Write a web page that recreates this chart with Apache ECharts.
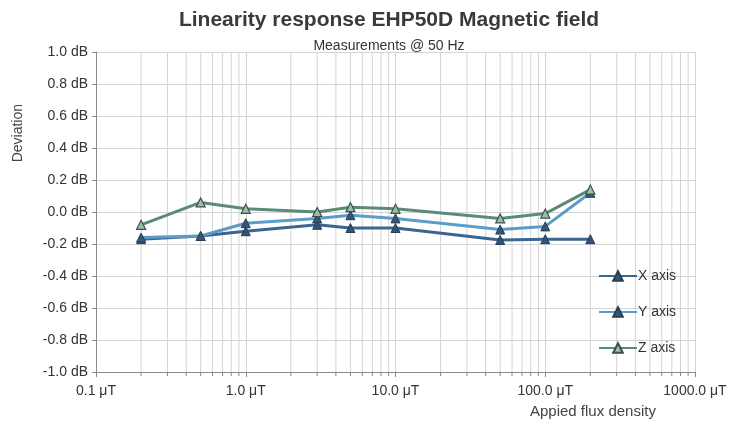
<!DOCTYPE html>
<html>
<head>
<meta charset="utf-8">
<script src="https://cdn.jsdelivr.net/npm/echarts@6/dist/echarts.min.js"></script>
<style>
  html,body{margin:0;padding:0;background:#fff;}
  #chart{width:732px;height:435px;}
</style>
</head>
<body>
<div id="chart"></div>
<script>
  // applied flux density (µT) and deviation (dB) per axis
  var fluxDensity = [0.2, 0.5, 1, 3, 5, 10, 50, 100, 200];
  var xAxisDev = [-0.17, -0.15, -0.12, -0.08, -0.10, -0.10, -0.175, -0.17, -0.17];
  var yAxisDev = [-0.16, -0.15, -0.07, -0.04, -0.02, -0.04, -0.11, -0.09, 0.12];
  var zAxisDev = [-0.08, 0.06, 0.02, 0.00, 0.03, 0.02, -0.04, -0.01, 0.14];
  // log grid positions (2..9 of each decade)
  var minorGrid = [];
  [0.1, 1, 10, 100].forEach(function (d) {
    for (var k = 2; k <= 9; k++) minorGrid.push(+(d * k).toFixed(4));
  });

  var font = 'Liberation Sans, Arial, sans-serif';
  var chart = echarts.init(document.getElementById('chart'));

  function pairs(vals) {
    return fluxDensity.map(function (f, i) { return [f, vals[i]]; });
  }

  // vertical minor grid line plus a short tick under the axis
  function renderMinor(params, api) {
    var top = api.coord([api.value(0), 1]);
    var bottom = api.coord([api.value(0), -1]);
    return {
      type: 'group',
      children: [{
        type: 'line',
        shape: {x1: top[0], y1: top[1], x2: bottom[0], y2: bottom[1]},
        style: {stroke: '#d4d4d4', lineWidth: 1}
      }, {
        type: 'line',
        shape: {x1: bottom[0], y1: bottom[1], x2: bottom[0], y2: bottom[1] + 4},
        style: {stroke: '#888', lineWidth: 1}
      }]
    };
  }

  chart.setOption({
    animation: false,
    textStyle: {fontFamily: font},
    title: [{
      text: 'Linearity response EHP50D Magnetic field',
      left: 384, top: 5, textAlign: 'center',
      textStyle: {fontSize: 21, fontWeight: 'bold', color: '#3a3a3a', fontFamily: font}
    }, {
      text: 'Measurements @ 50 Hz',
      left: 384, top: 34, textAlign: 'center',
      textStyle: {fontSize: 14, fontWeight: 'normal', color: '#333', fontFamily: font}
    }],
    graphic: [{
      type: 'text', left: 11, top: 104, rotation: Math.PI / 2,
      style: {text: 'Deviation', fontSize: 14, fill: '#444', fontFamily: font}
    }, {
      type: 'text', left: 530, top: 404,
      style: {text: 'Appied flux density', fontSize: 15, fill: '#444', fontFamily: font}
    }],
    legend: {
      orient: 'vertical',
      left: 593, top: 264,
      itemWidth: 38, itemHeight: 12, itemGap: 22,
      textStyle: {fontSize: 14, color: '#333', padding: [0, 0, 0, -4]},
      data: ['X axis', 'Y axis', 'Z axis']
    },
    grid: {left: 96, right: 37, top: 52, bottom: 63, outerBoundsMode: 'none'},
    xAxis: {
      type: 'log', logBase: 10, min: 0.1, max: 1000,
      axisLine: {show: true, onZero: false, lineStyle: {color: '#888'}},
      axisTick: {show: true, length: 5, lineStyle: {color: '#888'}},
      axisLabel: {
        color: '#333', fontSize: 14, margin: 12,
        formatter: function (v) { return v.toFixed(1) + ' μT'; }
      },
      splitLine: {show: true, lineStyle: {color: '#d4d4d4'}}
    },
    yAxis: {
      type: 'value', min: -1, max: 1, interval: 0.2,
      axisLine: {show: true, lineStyle: {color: '#888'}},
      axisTick: {show: true, length: 4, lineStyle: {color: '#888'}},
      axisLabel: {
        color: '#333', fontSize: 14, margin: 8,
        formatter: function (v) { return v.toFixed(1) + ' dB'; }
      },
      splitLine: {show: true, lineStyle: {color: '#d4d4d4'}}
    },
    series: [{
      name: 'grid', type: 'custom', silent: true, z: 1, clip: false,
      renderItem: renderMinor,
      encode: {x: 0},
      data: minorGrid.map(function (x) { return [x]; })
    }, {
      name: 'X axis', type: 'line', data: pairs(xAxisDev),
      symbol: 'triangle', symbolSize: 9,
      lineStyle: {color: '#3b6690', width: 3},
      itemStyle: {color: '#2f5478', borderColor: '#2a3e50', borderWidth: 1}
    }, {
      name: 'Y axis', type: 'line', data: pairs(yAxisDev),
      symbol: 'triangle', symbolSize: 9,
      lineStyle: {color: '#5b9ccb', width: 3},
      itemStyle: {color: '#35567a', borderColor: '#2a3e50', borderWidth: 1}
    }, {
      name: 'Z axis', type: 'line', data: pairs(zAxisDev),
      symbol: 'triangle', symbolSize: 9,
      lineStyle: {color: '#5b8a79', width: 3},
      itemStyle: {color: '#9fbcaa', borderColor: '#3a5248', borderWidth: 1.2}
    }]
  });
</script>
</body>
</html>
